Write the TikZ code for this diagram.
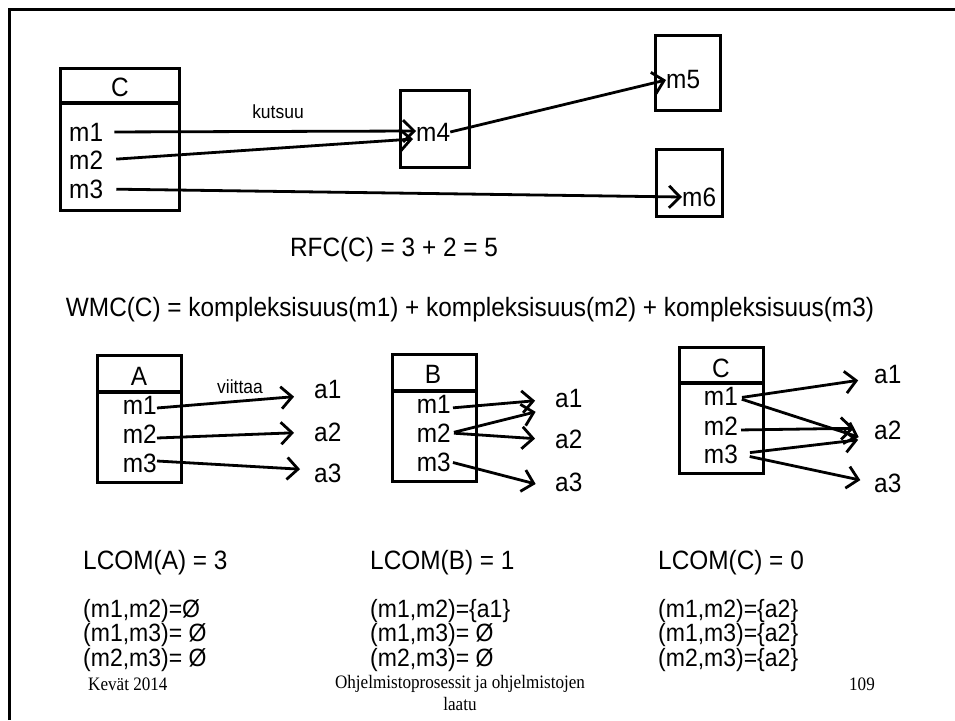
\documentclass[tikz,border=0pt]{standalone}
\usepackage{fontspec}
\setmainfont{Liberation Sans}[FakeStretch=0.92]
\newfontfamily\footfont{Liberation Serif}[FakeStretch=0.9]
\usetikzlibrary{arrows.meta}

\begin{document}
\begin{tikzpicture}[x=1pt, y=-1pt,
  txt/.style={font=\fontsize{26.5}{30}\selectfont, inner sep=0pt},
  pair/.style={anchor=west, inner sep=0pt, font=\fontsize{25}{28}\selectfont},
  small/.style={font=\fontsize{19}{22}\selectfont, inner sep=0pt},
  foot/.style={font=\footfont\fontsize{19}{22}\selectfont, inner sep=0pt},
  box/.style={draw, line width=3pt},
  bar/.style={line width=4.5pt},
  ref/.style={line width=2.8pt, -{Straight Barb[length=11pt, width=22pt]}},
]
  \useasboundingbox (0,0) rectangle (955,720);
  \draw[line width=3pt] (9,720) -- (9,9) -- (955,9);

  % kutsuu: class C and the methods it calls
  \draw[box] (60,68) rectangle (179,210);
  \draw[bar] (60,103) -- (179,103);
  \node[txt] (cC) at (120,87) {C};
  \node[txt, anchor=west] (c1) at (69,132) {m1};
  \node[txt, anchor=west] (c2) at (69,160) {m2};
  \node[txt, anchor=west] (c3) at (69,189) {m3};
  \node[small] (kutsuu) at (278,112) {kutsuu};

  \draw[box] (400,90) rectangle (469,167);
  \node[txt, anchor=west] (m4) at (416,132) {m4};
  \draw[box] (655,35) rectangle (720,110);
  \node[txt, anchor=west] (m5) at (666,80) {m5};
  \draw[box] (656,149) rectangle (722,216);
  \node[txt, anchor=west] (m6) at (682,197) {m6};

  \draw[ref, shorten <=11pt] (c1.east) -- ([yshift=1pt]m4.west);
  \draw[ref, shorten <=13pt] (c2.east) -- ([xshift=-3pt, yshift=-7pt]m4.west);
  \draw[ref] (m4.east) -- (m5.west);
  \draw[ref, shorten <=13pt] (c3.east) -- (m6.west);

  \node[txt] (rfc) at (394,250) {RFC(C) = 3 + 2 = 5};
  \node[txt] (wmc) at (470,310)
    {WMC(C) = kompleksisuus(m1) + kompleksisuus(m2) + kompleksisuus(m3)};

  % viittaa: class A
  \draw[box] (97,355) rectangle (181,482);
  \draw[bar] (97,392) -- (181,392);
  \node[txt] (aA) at (139,376) {A};
  \node[txt, anchor=east] (a1m) at (157,405) {m1};
  \node[txt, anchor=east] (a2m) at (157,434) {m2};
  \node[txt, anchor=east] (a3m) at (157,463) {m3};
  \node[small] (viittaa) at (240,387) {viittaa};
  \node[txt, anchor=west] (aa1) at (314,390) {a1};
  \node[txt, anchor=west] (aa2) at (314,432) {a2};
  \node[txt, anchor=west] (aa3) at (314,473) {a3};
  \draw[ref, shorten >=20pt] ([yshift=-3pt]a1m.east) -- ([yshift=-5pt]aa1.west);
  \draw[ref, shorten >=20pt] ([yshift=-4pt]a2m.east) -- (aa2.west);
  \draw[ref, shorten >=14pt] ([yshift=2pt]a3m.east) -- ([yshift=3pt]aa3.west);

  % class B
  \draw[box] (392,354) rectangle (476,481);
  \draw[bar] (392,391) -- (476,391);
  \node[txt] (bB) at (433,374) {B};
  \node[txt, anchor=east] (b1m) at (451,404) {m1};
  \node[txt, anchor=east] (b2m) at (451,433) {m2};
  \node[txt, anchor=east] (b3m) at (451,462) {m3};
  \node[txt, anchor=west] (ba1) at (555,399) {a1};
  \node[txt, anchor=west] (ba2) at (555,439) {a2};
  \node[txt, anchor=west] (ba3) at (555,482) {a3};
  \draw[ref, shorten <=2pt, shorten >=20pt] ([yshift=-4pt]b1m.east) -- (ba1.west);
  \draw[ref, shorten <=3pt, shorten >=20pt] (b2m.east) -- ([yshift=-8pt]ba1.west);
  \draw[ref, shorten <=3pt, shorten >=20pt] (b2m.east) -- ([yshift=-1pt]ba2.west);
  \draw[ref, shorten <=2pt, shorten >=20pt] (b3m.east) -- ([yshift=-7pt]ba3.west);

  % class C
  \draw[box] (679,347) rectangle (763,473);
  \draw[bar] (679,383) -- (763,383);
  \node[txt] (cc) at (721,368) {C};
  \node[txt, anchor=east] (cc1) at (738,396) {m1};
  \node[txt, anchor=east] (cc2) at (738,426) {m2};
  \node[txt, anchor=east] (cc3) at (738,454) {m3};
  \node[txt, anchor=west] (ca1) at (874,375) {a1};
  \node[txt, anchor=west] (ca2) at (874,430) {a2};
  \node[txt, anchor=west] (ca3) at (874,483) {a3};
  \draw[ref, shorten <=4pt, shorten >=16pt] ([yshift=-2pt]cc1.east) -- ([yshift=-3pt]ca1.west);
  \draw[ref, shorten <=4pt, shorten >=16pt] ([yshift=-2pt]cc1.east) -- ([yshift=-12pt]ca2.west);
  \draw[ref, shorten <=3pt, shorten >=20pt] ([yshift=-4pt]cc2.east) -- ([yshift=2pt]ca2.west);
  \draw[ref, shorten <=12pt, shorten >=16pt] (cc3.east) -- ([yshift=-8pt]ca2.west);
  \draw[ref, shorten <=12pt, shorten >=14pt] (cc3.east) -- (ca3.west);

  % LCOM values
  \node[txt, anchor=west] (lA) at (83,563) {LCOM(A) = 3};
  \node[txt, anchor=west] (lB) at (370,563) {LCOM(B) = 1};
  \node[txt, anchor=west] (lC) at (658,563) {LCOM(C) = 0};

  \node[pair] (pA1) at (83,611) {(m1,m2)=Ø};
  \node[pair] (pA2) at (83,635.5) {(m1,m3)= Ø};
  \node[pair] (pA3) at (83,660) {(m2,m3)= Ø};
  \node[pair] (pB1) at (370,611) {(m1,m2)=\{a1\}};
  \node[pair] (pB2) at (370,635.5) {(m1,m3)= Ø};
  \node[pair] (pB3) at (370,660) {(m2,m3)= Ø};
  \node[pair] (pC1) at (658,611) {(m1,m2)=\{a2\}};
  \node[pair] (pC2) at (658,635.5) {(m1,m3)=\{a2\}};
  \node[pair] (pC3) at (658,660) {(m2,m3)=\{a2\}};

  % footer
  \node[foot, anchor=west] (kevat) at (88,684) {Kevät 2014};
  \node[foot] (kurssi) at (460,684) {Ohjelmistoprosessit ja ohjelmistojen};
  \node[foot] (laatu) at (460,704) {laatu};
  \node[foot] (sivu) at (862,684) {109};
\end{tikzpicture}
\end{document}
